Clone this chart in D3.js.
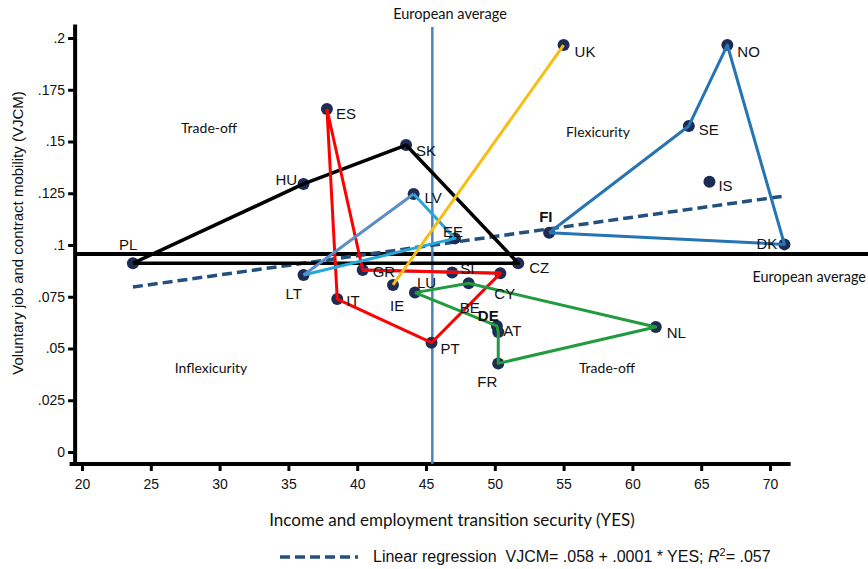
<!DOCTYPE html>
<html>
<head>
<meta charset="utf-8">
<script src="https://cdn.jsdelivr.net/npm/d3@7"></script>
<style>
  body { margin: 0; background: #fff; }
  svg { display: block; }
</style>
</head>
<body>
<div id="chart"></div>
<script>
// country codes and their (YES, VJCM) values
const countries = ['PL','HU','ES','SK','LV','EE','LT','GR','IE','LU','SI','BE','CY','CZ','IT','PT','DE','AT','FR','NL','UK','NO','SE','IS','FI','DK'];
const yes  = [23.7, 36.1, 37.8, 43.55, 44.1, 47.1, 36.1, 40.4, 42.6, 44.2, 46.9, 48.1, 50.4, 51.7, 38.55, 45.4, 50.15, 50.25, 50.25, 61.7, 55.0, 66.9, 64.1, 65.6, 53.95, 71.05];
const vjcm = [.0912, .1295, .1657, .1483, .1246, .1032, .0855, .0879, .0807, .077, .0867, .0815, .0863, .0912, .0739, .0528, .0609, .058, .0428, .0604, .1966, .1966, .1575, .1306, .1059, .1003];

// country groups joined by lines (drawn in this order)
const groupMembers = [
  ['GR','CY'],
  ['PL','HU','SK','CZ','PL'],
  ['ES','IT','PT','CY','GR','ES'],
  ['LU','BE','NL','FR','AT','DE','LU'],
  ['FI','SE','NO','DK','FI'],
  ['LV','EE','LT'],
  ['LT','LV'],
  ['IE','UK']
];
const groupColors = ['#5b8dc6','#000000','#ff0000','#229a3f','#2574b4','#27a7d6','#5b8dc6','#f7bd14'];

const euAvgYes = 45.46;
const euAvgVjcm = 0.0957;
const regYes = [23.7, 71.1];
const regVjcm = [0.0797, 0.1237];

const xTicks = [20,25,30,35,40,45,50,55,60,65,70];
const yTicks = [0,.025,.05,.075,.1,.125,.15,.175,.2];
const yTickLabels = ['0','.025','.05','.075','.1','.125','.15','.175','.2'];

// label placement around each dot
const labelOffset = {
  PL:[-14,-18], HU:[-28,-4], ES:[9,5], SK:[10,6], LV:[11,4], EE:[-12,-7], LT:[-18,19],
  GR:[10,2], IE:[-3,21], LU:[2,-10], SI:[8,-4], BE:[-9,24], CY:[-6,20], CZ:[11,5],
  IT:[9,2], PT:[9,6], DE:[-19,-10], AT:[5,-1], FR:[-21,18], NL:[11,6], UK:[11,7],
  NO:[10,7], SE:[10,4], IS:[9,4], FI:[-10,-16], DK:[-28,-1]
};

const width = 868, height = 569;
const svg = d3.select('#chart').append('svg')
  .attr('width', width).attr('height', height);

const x = d3.scaleLinear().domain([20, 70]).range([82, 770]);
const y = d3.scaleLinear().domain([0, 0.2]).range([452, 38]);

const pts = {};
countries.forEach((c, i) => { pts[c] = [yes[i], vjcm[i]]; });

const sans = '"Liberation Sans", Arial, sans-serif';
const calibri = 'Lato, "Open Sans", sans-serif';

// axes
const xAxisY = y(-0.0058);
const yAxisX = x(19.5);

svg.append('g')
  .attr('transform', `translate(0,${xAxisY})`)
  .call(d3.axisBottom(x).tickValues(xTicks).tickSize(7).tickPadding(8).tickSizeOuter(0))
  .call(g => g.select('.domain').remove())
  .call(g => g.selectAll('.tick line').attr('stroke-width', 3))
  .call(g => g.selectAll('text').attr('font-family', sans).attr('font-size', 14).attr('fill', '#111'));

svg.append('g')
  .attr('transform', `translate(${yAxisX},0)`)
  .call(d3.axisLeft(y).tickValues(yTicks).tickSize(7).tickPadding(3).tickFormat((d, i) => yTickLabels[i]))
  .call(g => g.select('.domain').remove())
  .call(g => g.selectAll('.tick line').attr('stroke-width', 3))
  .call(g => g.selectAll('text').attr('font-family', sans).attr('font-size', 14).attr('fill', '#111'));

svg.append('line')
  .attr('x1', x(19.1)).attr('x2', x(71.5))
  .attr('y1', xAxisY).attr('y2', xAxisY)
  .attr('stroke', '#000').attr('stroke-width', 4);
svg.append('line')
  .attr('x1', yAxisX).attr('x2', yAxisX)
  .attr('y1', y(0.2065)).attr('y2', xAxisY + 2)
  .attr('stroke', '#000').attr('stroke-width', 4);

// european averages
svg.append('line')
  .attr('x1', yAxisX).attr('x2', width)
  .attr('y1', y(euAvgVjcm)).attr('y2', y(euAvgVjcm))
  .attr('stroke', '#000').attr('stroke-width', 4);
svg.append('line')
  .attr('x1', x(euAvgYes)).attr('x2', x(euAvgYes))
  .attr('y1', 27).attr('y2', xAxisY)
  .attr('stroke', '#4f81bd').attr('stroke-width', 2.5);

svg.append('text').text('European average')
  .attr('x', 450).attr('y', 19).attr('text-anchor', 'middle')
  .attr('font-family', calibri).attr('font-size', 14.5).attr('fill', '#111');
svg.append('text').text('European average')
  .attr('x', 866).attr('y', 282).attr('text-anchor', 'end')
  .attr('font-family', calibri).attr('font-size', 14.5).attr('fill', '#111');

// quadrant labels
const quads = [['Trade-off', 209, 133], ['Flexicurity', 598, 137], ['Inflexicurity', 211, 373], ['Trade-off', 607, 373]];
svg.selectAll('.quad').data(quads).join('text')
  .attr('x', d => d[1]).attr('y', d => d[2]).attr('text-anchor', 'middle')
  .attr('font-family', calibri).attr('font-size', 14).attr('fill', '#111')
  .text(d => d[0]);

// regression line
const line = d3.line().x(d => x(d[0])).y(d => y(d[1]));
svg.append('path')
  .attr('d', line(regYes.map((v, i) => [v, regVjcm[i]])))
  .attr('fill', 'none').attr('stroke', '#24507e').attr('stroke-width', 3.5)
  .attr('stroke-dasharray', '10,5');

// dots
svg.append('g').selectAll('circle').data(countries).join('circle')
  .attr('cx', c => x(pts[c][0])).attr('cy', c => y(pts[c][1]))
  .attr('r', 6).attr('fill', '#1e2b52');

// group outlines
svg.append('g').selectAll('path').data(groupMembers).join('path')
  .attr('d', m => line(m.map(c => pts[c])))
  .attr('fill', 'none')
  .attr('stroke', (m, i) => groupColors[i])
  .attr('stroke-width', (m, i) => i === 1 ? 3.5 : 3)
  .attr('stroke-linejoin', 'round');

// country labels
svg.append('g').selectAll('text').data(countries).join('text')
  .attr('x', c => x(pts[c][0]) + labelOffset[c][0])
  .attr('y', c => y(pts[c][1]) + labelOffset[c][1])
  .attr('dy', '0.35em')
  .attr('font-family', sans).attr('font-size', 15).attr('fill', '#111')
  .attr('font-weight', c => (c === 'FI' || c === 'DE') ? 'bold' : 'normal')
  .text(c => c);

// axis titles
svg.append('text').text('Income and employment transition security (YES)')
  .attr('x', 452).attr('y', 526).attr('text-anchor', 'middle')
  .attr('font-family', calibri).attr('font-size', 17).attr('fill', '#111');
svg.append('text').text('Voluntary job and contract mobility (VJCM)')
  .attr('transform', 'translate(23,233) rotate(-90)').attr('text-anchor', 'middle')
  .attr('font-family', sans).attr('font-size', 15).attr('fill', '#111');

// legend
svg.append('line')
  .attr('x1', 280).attr('x2', 358).attr('y1', 557).attr('y2', 557)
  .attr('stroke', '#24507e').attr('stroke-width', 3.5).attr('stroke-dasharray', '10,5');
const leg = svg.append('text').attr('x', 373).attr('y', 562)
  .attr('font-family', sans).attr('font-size', 16).attr('fill', '#111');
leg.append('tspan').text('Linear regression\u00a0\u00a0VJCM= .058 + .0001 * YES; ');
leg.append('tspan').attr('font-style', 'italic').text('R');
leg.append('tspan').attr('font-size', 11).attr('dy', -6).text('2');
leg.append('tspan').attr('dy', 6).text('= .057');
</script>
</body>
</html>
